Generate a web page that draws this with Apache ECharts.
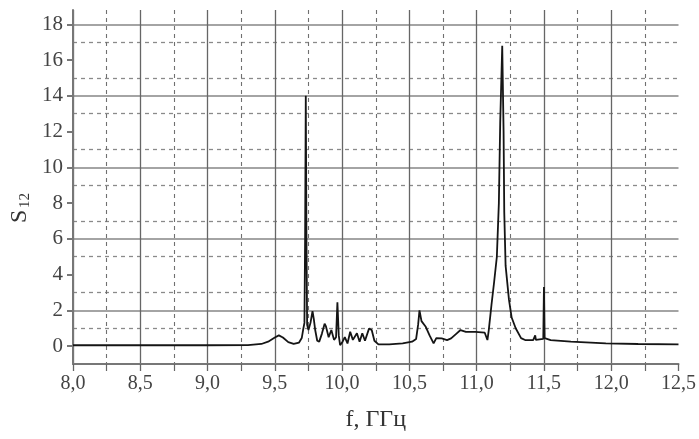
<!DOCTYPE html>
<html><head><meta charset="utf-8">
<script src="https://cdn.jsdelivr.net/npm/echarts/dist/echarts.min.js"></script>
<style>html,body{margin:0;padding:0;background:#fff}#c{width:699px;height:439px}</style>
</head><body><div id="c"></div>
<script>
// Frequency, GHz
const freq = [8.00, 8.50, 9.00, 9.30, 9.40, 9.45, 9.50, 9.53, 9.56, 9.60, 9.64, 9.68, 9.70, 9.71, 9.72, 9.725, 9.73, 9.735, 9.74, 9.75,
  9.765, 9.78, 9.79, 9.80, 9.815, 9.83, 9.85, 9.87, 9.88, 9.90, 9.92, 9.94, 9.955, 9.965, 9.975, 9.985, 10.00, 10.02, 10.04, 10.06,
  10.08, 10.11, 10.13, 10.15, 10.17, 10.20, 10.22, 10.24, 10.27, 10.35, 10.45, 10.52, 10.55, 10.565, 10.575, 10.59, 10.62, 10.65, 10.68, 10.70,
  10.74, 10.78, 10.81, 10.85, 10.88, 10.92, 10.99, 11.06, 11.08, 11.09, 11.11, 11.13, 11.15, 11.165, 11.175, 11.19, 11.20, 11.205, 11.215, 11.24,
  11.26, 11.29, 11.33, 11.36, 11.42, 11.435, 11.44, 11.495, 11.50, 11.505, 11.55, 11.70, 11.96, 12.20, 12.50];
// S12 values
const s12 = [0.05, 0.05, 0.05, 0.06, 0.12, 0.25, 0.48, 0.60, 0.48, 0.22, 0.12, 0.20, 0.45, 0.90, 1.30, 6.0, 14.0, 6.0, 1.2, 0.9,
  1.3, 1.95, 1.5, 0.9, 0.3, 0.25, 0.7, 1.25, 1.1, 0.5, 0.9, 0.35, 0.5, 2.45, 0.6, 0.05, 0.2, 0.5, 0.15, 0.8,
  0.35, 0.72, 0.24, 0.72, 0.3, 0.98, 0.9, 0.3, 0.1, 0.1, 0.15, 0.25, 0.4, 1.2, 2.0, 1.4, 1.1, 0.6, 0.15, 0.45,
  0.43, 0.34, 0.43, 0.7, 0.9, 0.8, 0.8, 0.75, 0.34, 0.9, 2.3, 3.6, 5.0, 8.0, 12.5, 16.8, 12.0, 7.5, 4.5, 2.6,
  1.6, 1.0, 0.45, 0.34, 0.34, 0.6, 0.35, 0.4, 3.3, 0.45, 0.34, 0.25, 0.15, 0.12, 0.10];
// Tick labels
const yTickValues = [0, 2, 4, 6, 8, 10, 12, 14, 16, 18];
const xName = 'f, ГГц';
const yNameMain = 'S', yNameSub = '12';

const serif = '"Liberation Serif", "DejaVu Serif", serif';
const yMin = -1, yMax = 18.8;
const solidH = Array.from({length: 21}, (_, i) => (i % 2 === 1) ? '#a4a4a4' : 'transparent');
const dashH = Array.from({length: 21}, (_, i) => (i > 0 && i < 20 && i % 2 === 0) ? '#8a8a8a' : 'transparent');
const solidV = Array.from({length: 10}, (_, i) => (i === 9) ? 'transparent' : '#666');

const chart = echarts.init(document.getElementById('c'), null, {renderer: 'canvas'});
chart.setOption({
  animation: false,
  backgroundColor: '#fff',
  grid: {left: 73, right: 19, top: 10, bottom: 75, containLabel: false},
  graphic: [{
    type: 'group', x: 8, y: 223, rotation: Math.PI / 2,
    children: [
      {type: 'text', x: 0, y: 0, style: {text: yNameMain, fontFamily: serif, fontSize: 24, fill: '#333'}},
      {type: 'text', x: 15, y: 10, style: {text: yNameSub, fontFamily: serif, fontSize: 15, fill: '#333'}}
    ]
  }],
  xAxis: {
    type: 'value', min: 8, max: 12.5, interval: 0.5,
    name: xName, nameLocation: 'middle', nameGap: 44,
    nameTextStyle: {fontFamily: serif, fontSize: 24, color: '#333'},
    axisLine: {show: true, onZero: false, lineStyle: {color: '#777', width: 2}},
    axisTick: {show: true, length: 7, lineStyle: {color: '#666', width: 1.3}},
    minorTick: {show: true, splitNumber: 2, length: 7, lineStyle: {color: '#666', width: 1.2}},
    axisLabel: {fontFamily: serif, fontSize: 20, color: '#444', margin: 10,
      formatter: v => v.toFixed(1).replace('.', ',')},
    splitLine: {show: true, lineStyle: {color: solidV, width: 1.3, type: 'solid'}},
    minorSplitLine: {show: true, lineStyle: {color: '#707070', width: 1.1, type: [4, 4]}}
  },
  yAxis: [{
    type: 'value', min: yMin, max: yMax, interval: 1,
    axisLine: {show: true, lineStyle: {color: '#777', width: 2}},
    axisTick: {show: true, customValues: yTickValues, length: 6, lineStyle: {color: '#777', width: 2}},
    axisLabel: {customValues: yTickValues, fontFamily: serif, fontSize: 21, color: '#444', margin: 10,
      formatter: v => (Number.isInteger(v) && v % 2 === 0) ? String(v) : ''},
    splitLine: {show: true, lineStyle: {color: solidH, width: 2.2, type: 'solid'}}
  }, {
    type: 'value', min: yMin, max: yMax, interval: 1, position: 'left',
    axisLine: {show: false}, axisTick: {show: false}, axisLabel: {show: false},
    splitLine: {show: true, lineStyle: {color: dashH, width: 1.3, type: [4, 4]}}
  }],
  series: [{
    type: 'line', yAxisIndex: 0,
    data: freq.map((f, i) => [f, s12[i]]),
    showSymbol: false, symbol: 'none',
    lineStyle: {color: '#151515', width: 1.8},
    z: 5
  }]
});
</script>
</body></html>
